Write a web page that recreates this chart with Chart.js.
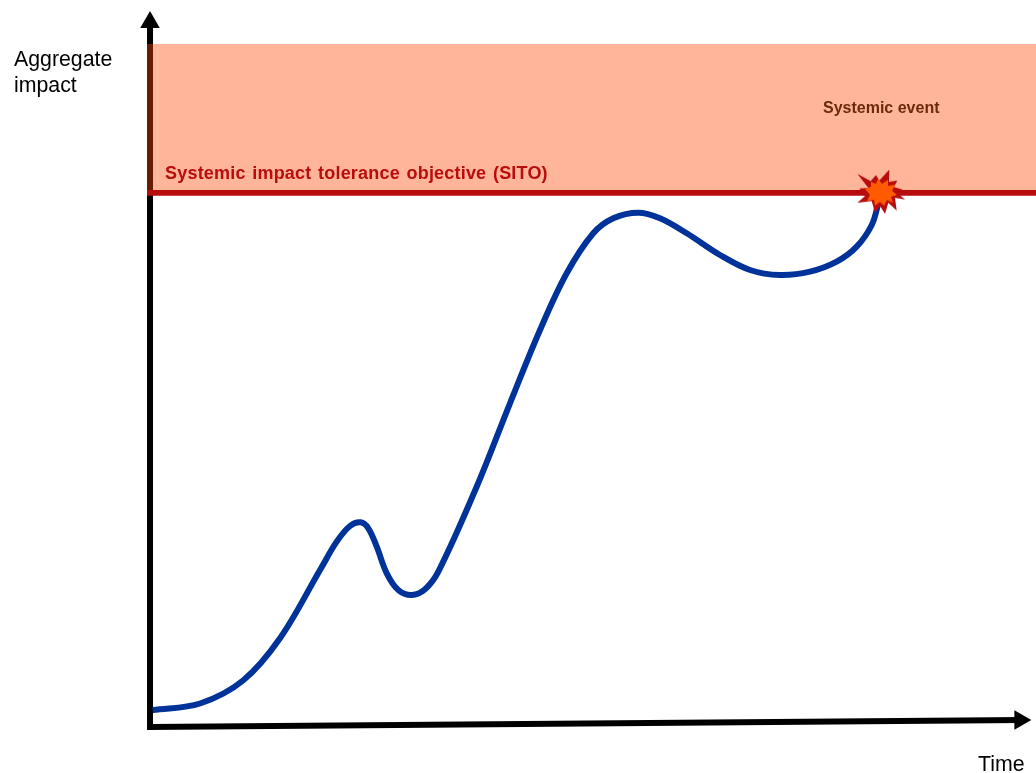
<!DOCTYPE html>
<html>
<head>
<meta charset="utf-8">
<title>Systemic impact tolerance</title>
<script src="https://cdn.jsdelivr.net/npm/chart.js@4/dist/chart.umd.min.js"></script>
<style>
  html, body { margin: 0; padding: 0; background: #fff; }
  canvas { display: block; }
</style>
</head>
<body>
<canvas id="myChart" width="1036" height="773"></canvas>
<script>
// x = time (0-100), y = aggregate impact (SITO = 100)
const curveX = [0.3, 5.64, 10.5, 14.67, 19.19, 21.07, 22.57, 23.78, 24.64, 25.59, 26.72, 28.02, 29.54, 31.04, 32.54, 36.87, 40.63, 44.02, 47.03, 50.03, 52.29, 55.11, 57.56, 60.58, 64.33, 67.72, 71.11, 74.49, 77.5, 79.76, 81.46, 82.2, 82.5];
const curveY = [3.18, 4.4, 8.7, 16.6, 29.39, 34.69, 37.63, 38.32, 37.2, 33.75, 28.77, 25.65, 24.71, 25.78, 29.07, 44.98, 60.6, 74.32, 84.93, 92.42, 95.23, 96.28, 95.23, 92.42, 88.36, 85.55, 84.61, 85.23, 87.1, 89.91, 93.97, 98.03, 100];
const sitoValue = 100;
const bandTop = 127.85;
const axisMax = 136.09;
const xMin = -0.34;
const xMax = 100;
const eventX = 82.5;
const yAxisX = [0, 0];
const yAxisY = [0, 131.9];
const xAxisX = [0, 98.2];
const xAxisY = [0, 1.3];

const axisLabels = [
  { text: 'Aggregate', x: 14, y: 60.5, font: '21.3px "Liberation Sans"', color: '#000000' },
  { text: 'impact', x: 14, y: 86.5, font: '21.3px "Liberation Sans"', color: '#000000' },
  { text: 'Time', x: 978, y: 765, font: '21.3px "Liberation Sans"', color: '#000000' },
  { text: 'Systemic event', x: 823, y: 108.5, font: 'bold 16px "Liberation Sans"', color: '#6B2A0E' },
  { text: 'Systemic impact tolerance objective (SITO)', x: 165, y: 174, font: 'bold 18px "Liberation Sans"', color: '#B80D0D', spacing: '0.2px', words: '1.4px' }
];

// explosion marker
const burstOuter = [[-23.7,-19],[-10.3,-11.7],[-5,-17.7],[-1.7,-12.3],[8.3,-23.3],[8,-11],[16.3,-12.3],[13,-5.7],[21.7,-3.3],[16.3,0],[24,6.7],[14,5],[15.7,17.7],[7.3,10],[4,21],[-1,13.3],[-6,20],[-9.3,8.3],[-23.7,10],[-16,3.3],[-21.7,-4.3],[-12.7,-5]];
const burstInner = [[-16,-4],[-10,-6],[-10,-11],[-5,-9],[-3,-14],[1,-9],[7,-13],[7,-7],[14,-8],[11,-2],[16,2],[10,4],[12,10],[6,7],[3,13],[-1,9],[-6,13],[-7,7],[-14,8],[-11,2]];

function makeBurst() {
  const c = document.createElement('canvas');
  c.width = 60;
  c.height = 60;
  const g = c.getContext('2d');
  const poly = (pts, color) => {
    g.beginPath();
    pts.forEach(p => g.lineTo(30 + p[0], 30 + p[1]));
    g.closePath();
    g.fillStyle = color;
    g.fill();
  };
  poly(burstOuter, '#B80D0D');
  poly(burstInner, '#FF5A00');
  return c;
}

const textPlugin = {
  id: 'textPlugin',
  afterDraw(chart) {
    const ctx = chart.ctx;
    ctx.save();
    ctx.textBaseline = 'middle';
    axisLabels.forEach(l => {
      ctx.font = l.font;
      ctx.fillStyle = l.color;
      ctx.letterSpacing = l.spacing || '0px';
      ctx.wordSpacing = l.words || '0px';
      ctx.fillText(l.text, l.x, l.y);
    });
    ctx.restore();
  }
};

const toPoints = (xs, ys) => xs.map((x, i) => ({ x: x, y: ys[i] }));

new Chart(document.getElementById('myChart'), {
  type: 'scatter',
  data: {
    datasets: [
      {
        data: [{ x: eventX, y: sitoValue }],
        pointStyle: makeBurst(),
        pointRadius: 30,
        clip: false
      },
      {
        data: toPoints(curveX, curveY),
        showLine: true,
        borderColor: '#003399',
        borderWidth: 6,
        tension: 0.36,
        pointRadius: 0
      },
      {
        data: [{ x: xMin, y: sitoValue }, { x: xMax, y: sitoValue }],
        showLine: true,
        borderColor: '#B80D0D',
        borderWidth: 5.7,
        pointRadius: 0,
        clip: false
      },
      {
        data: [{ x: xMin, y: bandTop }, { x: xMax, y: bandTop }],
        showLine: true,
        borderWidth: 0,
        borderColor: 'transparent',
        backgroundColor: 'rgba(255, 70, 0, 0.4)',
        fill: { value: sitoValue },
        pointRadius: 0
      },
      {
        data: toPoints(yAxisX, yAxisY),
        showLine: true,
        borderColor: '#000000',
        borderWidth: 6,
        borderCapStyle: 'square',
        pointRadius: [0, 11.3],
        pointBackgroundColor: '#000000',
        pointBorderWidth: 0,
        pointStyle: 'triangle',
        clip: false
      },
      {
        data: toPoints(xAxisX, xAxisY),
        showLine: true,
        borderColor: '#000000',
        borderWidth: 6,
        borderCapStyle: 'square',
        pointRadius: [0, 11.3],
        pointBackgroundColor: '#000000',
        pointBorderWidth: 0,
        pointStyle: 'triangle',
        pointRotation: 90,
        clip: false
      }
    ]
  },
  options: {
    responsive: false,
    animation: false,
    devicePixelRatio: 1,
    layout: { autoPadding: false, padding: { left: 147, right: 0, top: 0, bottom: 46 } },
    scales: {
      x: { type: 'linear', display: false, min: xMin, max: xMax },
      y: { type: 'linear', display: false, min: 0, max: axisMax }
    },
    plugins: {
      legend: { display: false },
      tooltip: { enabled: false }
    }
  },
  plugins: [textPlugin]
});
</script>
</body>
</html>
